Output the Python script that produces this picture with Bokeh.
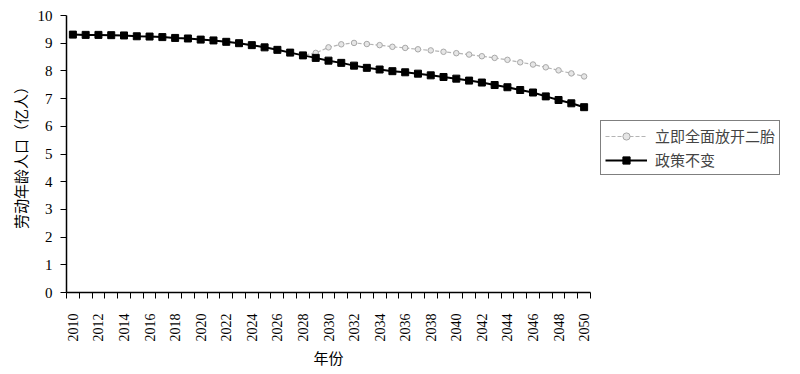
import math
from bokeh.plotting import figure
from bokeh.models import FixedTicker, Legend, LegendItem, Range1d, ColumnDataSource
from bokeh.embed import file_html
from bokeh.resources import INLINE

years = list(range(2010, 2051))
policy_unchanged = [9.31, 9.30, 9.30, 9.29, 9.28, 9.25, 9.24, 9.22, 9.19, 9.17,
                    9.13, 9.10, 9.05, 9.00, 8.93, 8.85, 8.76, 8.66, 8.56, 8.47,
                    8.37, 8.29, 8.19, 8.11, 8.05, 7.99, 7.95, 7.90, 7.84, 7.78,
                    7.72, 7.65, 7.58, 7.49, 7.41, 7.31, 7.22, 7.08, 6.95, 6.83, 6.69]
second_child = [9.31, 9.30, 9.30, 9.29, 9.28, 9.25, 9.24, 9.22, 9.19, 9.17,
                9.13, 9.10, 9.05, 9.00, 8.93, 8.85, 8.76, 8.66, 8.56, 8.65,
                8.85, 8.96, 9.01, 8.97, 8.93, 8.87, 8.83, 8.78, 8.74, 8.69,
                8.64, 8.59, 8.53, 8.47, 8.40, 8.31, 8.23, 8.13, 8.02, 7.91, 7.80]
label_years = list(range(2010, 2051, 2))
y_ticks = list(range(0, 11))
name_second = "立即全面放开二胎"
name_unchanged = "政策不变"
x_title = "年份"
y_title = "劳动年龄人口（亿人）"

src = ColumnDataSource(dict(x=years, a=second_child, b=policy_unchanged))

p = figure(frame_width=524, frame_height=277, output_backend="svg",
           toolbar_location=None, min_border_left=66, min_border_top=15,
           min_border_right=0, min_border_bottom=5,
           x_range=Range1d(years[0] - 0.5, years[-1] + 0.5),
           y_range=Range1d(0, 10))
p.outline_line_color = None
p.grid.visible = False

l1 = p.line("x", "a", source=src, line_color="#b4b4b4", line_width=1.2, line_dash="4 2")
s1 = p.scatter("x", "a", source=src, marker="circle", size=5.5, line_color="#a8a8a8",
               fill_color="#e6e6e6", line_width=1)
l2 = p.line("x", "b", source=src, line_color="black", line_width=2)
s2 = p.scatter("x", "b", source=src, marker="square", size=7, line_color="black",
               fill_color="black")

serif = "Liberation Serif"
cjk = "Noto Sans CJK SC"

xa = p.xaxis[0]
xa.ticker = FixedTicker(ticks=label_years, minor_ticks=[y - 0.5 for y in years] + [years[-1] + 0.5])
xa.major_tick_out = 0
xa.major_tick_in = 0
xa.minor_tick_out = 6
xa.minor_tick_in = 0
xa.minor_tick_line_color = "black"
xa.major_label_orientation = math.pi / 2
xa.major_label_text_font = serif
xa.major_label_text_font_size = "14px"
xa.major_label_standoff = 15
xa.axis_label = x_title
xa.axis_label_text_font = cjk
xa.axis_label_text_font_size = "15px"
xa.axis_label_text_font_style = "normal"
xa.axis_label_standoff = 2

ya = p.yaxis[0]
ya.ticker = FixedTicker(ticks=y_ticks)
ya.minor_tick_out = 0
ya.minor_tick_in = 0
ya.major_tick_out = 6
ya.major_tick_in = 0
ya.major_label_text_font = serif
ya.major_label_text_font_size = "15px"
ya.major_label_standoff = 8
ya.axis_label = y_title
ya.axis_label_text_font = cjk
ya.axis_label_text_font_size = "15px"
ya.axis_label_text_font_style = "normal"
ya.axis_label_standoff = 4

for ax in (xa, ya):
    ax.axis_line_color = "black"
    ax.axis_line_width = 1.5
    ax.major_tick_line_color = "black"
    ax.major_label_text_color = "black"
    ax.axis_label_text_color = "black"

legend = Legend(items=[LegendItem(label=name_second, renderers=[l1, s1]),
                       LegendItem(label=name_unchanged, renderers=[l2, s2])],
                location=(10, 117))
legend.label_text_font = cjk
legend.label_text_font_size = "15px"
legend.border_line_color = "black"
legend.border_line_width = 1
legend.background_fill_alpha = 1
legend.glyph_width = 42
legend.glyph_height = 18
legend.label_height = 18
legend.label_standoff = 8
legend.padding = 4
legend.spacing = 3
legend.margin = 10
p.add_layout(legend, "right")

open("out.html", "w").write(file_html(p, INLINE))
